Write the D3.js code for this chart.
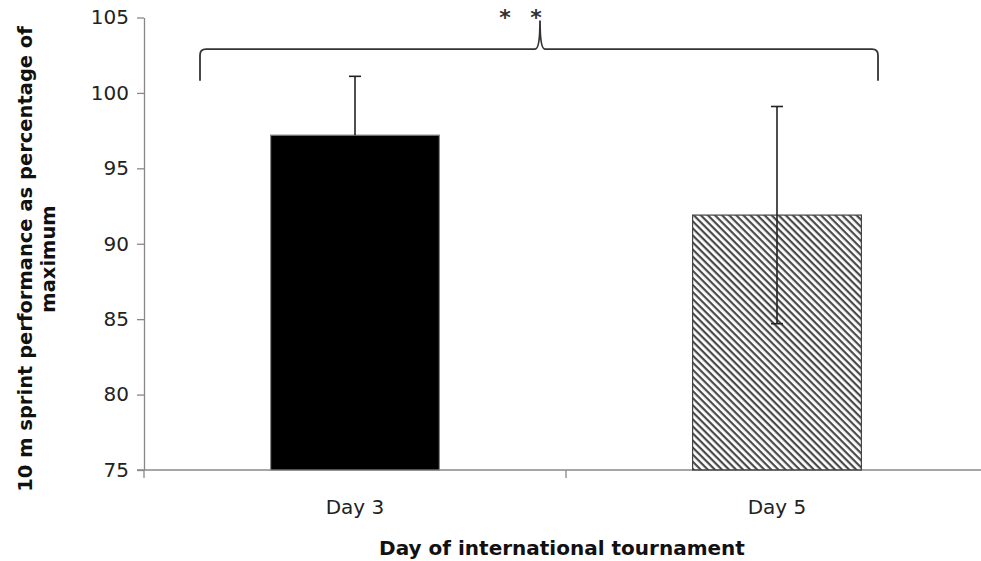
<!DOCTYPE html>
<html>
<head>
<meta charset="utf-8">
<script src="https://cdn.jsdelivr.net/npm/d3@7"></script>
<style>
  body { margin: 0; background: #fff; }
  svg text { font-family: "DejaVu Sans", sans-serif; }
</style>
</head>
<body>
<div id="wrapper"></div>
<script>
const days = ["Day 3", "Day 5"];
const means = [97.2, 91.9];
const sds = [3.9, 7.2];
const yTicks = [75, 80, 85, 90, 95, 100, 105];

const dimensions = {
  width: 981,
  height: 561,
  margin: { top: 17.5, right: -7, bottom: 91, left: 144 }
};
dimensions.boundedWidth = dimensions.width - dimensions.margin.left - dimensions.margin.right;
dimensions.boundedHeight = dimensions.height - dimensions.margin.top - dimensions.margin.bottom;

const wrapper = d3.select("#wrapper")
  .append("svg")
    .attr("width", dimensions.width)
    .attr("height", dimensions.height);

// hatch for day 5
const defs = wrapper.append("defs");
defs.append("pattern")
    .attr("id", "hatch")
    .attr("patternUnits", "userSpaceOnUse")
    .attr("width", 5)
    .attr("height", 5)
    .attr("patternTransform", "rotate(45)")
  .append("rect")
    .attr("x", 0).attr("y", 0)
    .attr("width", 5).attr("height", 2.2)
    .attr("fill", "#4a4a4a");

const bounds = wrapper.append("g")
    .attr("transform", `translate(${dimensions.margin.left},${dimensions.margin.top})`);

const xScaler = d3.scaleBand()
    .domain(days)
    .range([0, dimensions.boundedWidth])
    .paddingInner(0.6)
    .paddingOuter(0.3);

const yScaler = d3.scaleLinear()
    .domain([75, 105])
    .range([dimensions.boundedHeight, 0]);

// axes
const yAxis = bounds.append("g")
    .call(d3.axisLeft(yScaler).tickValues(yTicks).tickSize(7).tickSizeOuter(0).tickPadding(8));
yAxis.select(".domain").attr("stroke", "#888").attr("stroke-width", 1.3);
yAxis.selectAll(".tick line").attr("stroke", "#888").attr("stroke-width", 1.3);
yAxis.selectAll(".tick text")
    .attr("font-size", 20)
    .attr("font-family", "DejaVu Sans")
    .attr("fill", "#222");

const xAxis = bounds.append("g")
    .attr("transform", `translate(0,${dimensions.boundedHeight})`);
xAxis.append("line")
    .attr("x1", -7).attr("x2", dimensions.boundedWidth)
    .attr("stroke", "#888").attr("stroke-width", 1.3);
// tick marks between categories (left edge at the y axis, one in the middle)
const midTick = (xScaler("Day 3") + xScaler.bandwidth() + xScaler("Day 5")) / 2;
xAxis.selectAll(".xtick")
  .data([0, midTick])
  .join("line")
    .attr("class", "xtick")
    .attr("x1", d => d).attr("x2", d => d)
    .attr("y1", 0).attr("y2", 8)
    .attr("stroke", "#888").attr("stroke-width", 1.3);
xAxis.selectAll(".xlabel")
  .data(days)
  .join("text")
    .attr("class", "xlabel")
    .attr("x", d => xScaler(d) + xScaler.bandwidth() / 2)
    .attr("y", 44)
    .attr("text-anchor", "middle")
    .attr("font-size", 20)
    .attr("fill", "#222")
    .text(d => d);

// bars
bounds.selectAll(".bar")
  .data(days)
  .join("rect")
    .attr("class", "bar")
    .attr("x", d => xScaler(d))
    .attr("width", xScaler.bandwidth())
    .attr("y", (d, i) => yScaler(means[i]))
    .attr("height", (d, i) => dimensions.boundedHeight - yScaler(means[i]))
    .attr("fill", (d, i) => i === 0 ? "#000" : "url(#hatch)")
    .attr("stroke", (d, i) => i === 0 ? "#888" : "#444")
    .attr("stroke-width", 1.2);

// error bars; on the black bar only the upper whisker shows
const lowEnd = i => i === 0 ? means[i] : means[i] - sds[i];
const err = bounds.selectAll(".err")
  .data(days)
  .join("g")
    .attr("class", "err")
    .attr("stroke", "#222")
    .attr("stroke-width", 1.6);
err.append("line")
    .attr("x1", d => xScaler(d) + xScaler.bandwidth() / 2)
    .attr("x2", d => xScaler(d) + xScaler.bandwidth() / 2)
    .attr("y1", (d, i) => yScaler(means[i] + sds[i]))
    .attr("y2", (d, i) => yScaler(lowEnd(i)));
err.selectAll(".cap")
  .data((d, i) => (i === 0 ? [means[i] + sds[i]] : [means[i] + sds[i], means[i] - sds[i]]).map(v => ({ d, v })))
  .join("line")
    .attr("class", "cap")
    .attr("x1", o => xScaler(o.d) + xScaler.bandwidth() / 2 - 6)
    .attr("x2", o => xScaler(o.d) + xScaler.bandwidth() / 2 + 6)
    .attr("y1", o => yScaler(o.v))
    .attr("y2", o => yScaler(o.v));

// significance bracket
const bx0 = 200 - dimensions.margin.left;
const bx1 = 878 - dimensions.margin.left;
const bmid = 540 - dimensions.margin.left;
const by = yScaler(102.9);
const byEnd = yScaler(100.8);
const bTop = yScaler(104.8);
const r = 6;
const bracket = d3.path();
bracket.moveTo(bx0, byEnd);
bracket.lineTo(bx0, by + r);
bracket.quadraticCurveTo(bx0, by, bx0 + r, by);
bracket.lineTo(bmid - 5, by);
bracket.quadraticCurveTo(bmid, by, bmid, bTop);
bracket.quadraticCurveTo(bmid, by, bmid + 5, by);
bracket.lineTo(bx1 - r, by);
bracket.quadraticCurveTo(bx1, by, bx1, by + r);
bracket.lineTo(bx1, byEnd);
bounds.append("path")
    .attr("d", bracket.toString())
    .attr("fill", "none")
    .attr("stroke", "#333")
    .attr("stroke-width", 1.8);

bounds.selectAll(".star")
  .data([505, 536])
  .join("text")
    .attr("class", "star")
    .attr("x", d => d - dimensions.margin.left)
    .attr("y", 25 - dimensions.margin.top)
    .attr("text-anchor", "middle")
    .attr("font-size", 22)
    .attr("font-weight", "bold")
    .attr("fill", "#333")
    .text("*");

// axis titles
wrapper.append("text")
    .attr("x", 562)
    .attr("y", 555)
    .attr("text-anchor", "middle")
    .attr("font-size", 20)
    .attr("font-weight", "bold")
    .attr("fill", "#111")
    .text("Day of international tournament");

const yTitle = wrapper.append("text")
    .attr("transform", "translate(0,259) rotate(-90)")
    .attr("text-anchor", "middle")
    .attr("font-size", 19.5)
    .attr("font-weight", "bold")
    .attr("fill", "#111");
yTitle.append("tspan").attr("x", 0).attr("y", 32).text("10 m sprint performance as percentage of");
yTitle.append("tspan").attr("x", 0).attr("y", 55).text("maximum");
</script>
</body>
</html>
